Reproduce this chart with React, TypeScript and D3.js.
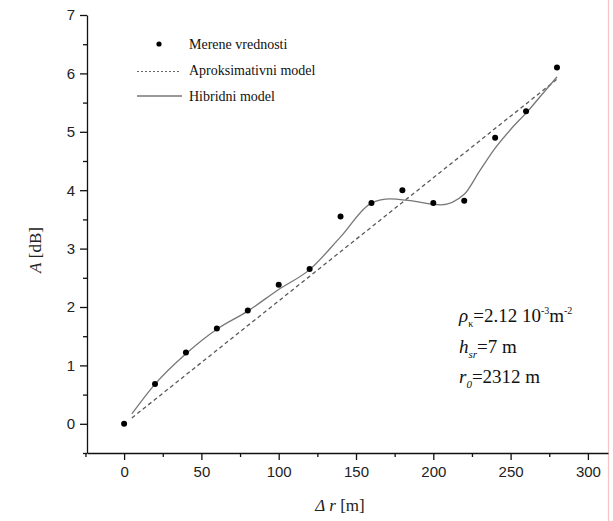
import React, { useEffect, useRef } from 'react';
import * as d3 from 'd3';

// measured values
const distances = [0, 20, 40, 60, 80, 100, 120, 140, 160, 180, 200, 220, 240, 260, 280];
const measured = [0, 0.68, 1.22, 1.63, 1.94, 2.38, 2.65, 3.55, 3.78, 4.0, 3.78, 3.82, 4.9, 5.35, 6.1];

// approximate (linear) model
const approxX = [5, 280];
const approxY = [0.1, 5.9];

// hybrid model
const hybridX = [5, 20, 40, 60, 80, 100, 120, 140, 160, 172, 185, 205, 220, 230, 240, 250, 261, 270, 280];
const hybridY = [0.17, 0.68, 1.2, 1.62, 1.93, 2.3, 2.64, 3.2, 3.78, 3.85, 3.82, 3.75, 3.93, 4.33, 4.72, 5.04, 5.35, 5.63, 5.94];

const xTicks = [0, 50, 100, 150, 200, 250, 300];
const xMinor = [-25, 25, 75, 125, 175, 225, 275];
const yTicks = [0, 1, 2, 3, 4, 5, 6, 7];
const yMinor = [-0.5, 0.5, 1.5, 2.5, 3.5, 4.5, 5.5, 6.5];

const legendNames = ['Merene vrednosti', 'Aproksimativni model', 'Hibridni model'];

const W = 613, H = 521;
const serif = '"Liberation Serif", "Times New Roman", serif';
const sans = '"Liberation Sans", Arial, sans-serif';

export default function App() {
  const ref = useRef<SVGSVGElement>(null);

  useEffect(() => {
    const svg = d3.select(ref.current);
    svg.selectAll('*').remove();

    const x = d3.scaleLinear().domain([-24, 313]).range([87, 608]);
    const y = d3.scaleLinear().domain([-0.5, 7]).range([453, 15]);

    // frame edge on the right
    svg.append('line')
      .attr('x1', 608.5).attr('x2', 608.5).attr('y1', 0).attr('y2', H)
      .attr('stroke', '#f4c4c4').attr('stroke-width', 1.2);

    // axes
    const xAxis = svg.append('g').attr('transform', `translate(0,${y(-0.5)})`)
      .call(d3.axisBottom(x).tickValues(xTicks).tickSize(7).tickSizeOuter(0).tickPadding(6));
    svg.append('g').attr('transform', `translate(0,${y(-0.5)})`)
      .call(d3.axisBottom(x).tickValues(xMinor).tickSize(4).tickFormat(() => '').tickSizeOuter(0))
      .select('.domain').remove();
    const yAxis = svg.append('g').attr('transform', `translate(${x(-24)},0)`)
      .call(d3.axisLeft(y).tickValues(yTicks).tickSize(7).tickSizeOuter(0).tickPadding(5));
    svg.append('g').attr('transform', `translate(${x(-24)},0)`)
      .call(d3.axisLeft(y).tickValues(yMinor).tickSize(4).tickFormat(() => '').tickSizeOuter(0))
      .select('.domain').remove();

    svg.selectAll('.domain, .tick line').attr('stroke', '#111').attr('stroke-width', 1.3);
    [xAxis, yAxis].forEach(g => g.selectAll('text')
      .attr('font-family', sans).attr('font-size', 15).attr('fill', '#222'));

    // approximate model
    const line = d3.line<[number, number]>().x(d => x(d[0])).y(d => y(d[1]));
    svg.append('path')
      .attr('d', line(approxX.map((v, i) => [v, approxY[i]] as [number, number])))
      .attr('fill', 'none').attr('stroke', '#5a5a5a').attr('stroke-width', 1.3)
      .attr('stroke-dasharray', '4,3');

    // hybrid model
    const curve = d3.line<[number, number]>().x(d => x(d[0])).y(d => y(d[1]))
      .curve(d3.curveMonotoneX);
    svg.append('path')
      .attr('d', curve(hybridX.map((v, i) => [v, hybridY[i]] as [number, number])))
      .attr('fill', 'none').attr('stroke', '#777').attr('stroke-width', 1.3);

    // measured points
    svg.append('g').selectAll('circle').data(distances).join('circle')
      .attr('cx', d => x(d)).attr('cy', (d, i) => y(measured[i]))
      .attr('r', 3).attr('fill', '#000');

    // legend
    const lg = svg.append('g').attr('font-family', serif).attr('font-size', 14).attr('fill', '#111');
    lg.append('circle').attr('cx', 159).attr('cy', 44).attr('r', 2.6).attr('fill', '#000');
    lg.append('line').attr('x1', 137).attr('x2', 181).attr('y1', 71.5).attr('y2', 71.5)
      .attr('stroke', '#666').attr('stroke-width', 1.2).attr('stroke-dasharray', '2,2');
    lg.append('line').attr('x1', 137).attr('x2', 182).attr('y1', 96).attr('y2', 96)
      .attr('stroke', '#777').attr('stroke-width', 1.4);
    legendNames.forEach((n, i) => {
      lg.append('text').attr('x', 189).attr('y', 49 + i * 26).text(n);
    });

    // axis titles
    const yt = svg.append('text').attr('font-family', serif).attr('font-size', 17).attr('fill', '#222')
      .attr('text-anchor', 'middle').attr('transform', 'translate(41,250) rotate(-90)');
    yt.append('tspan').attr('font-style', 'italic').text('A');
    yt.append('tspan').text(' [dB]');
    const xt = svg.append('text').attr('font-family', serif).attr('font-size', 17).attr('fill', '#222')
      .attr('text-anchor', 'middle').attr('x', 340).attr('y', 511);
    xt.append('tspan').attr('font-style', 'italic').text('Δ r');
    xt.append('tspan').text(' [m]');

    // parameter annotation
    const ann = svg.append('g').attr('font-family', serif).attr('font-size', 19).attr('fill', '#111');
    const t1 = ann.append('text').attr('x', 459).attr('y', 322);
    t1.append('tspan').attr('font-style', 'italic').text('ρ');
    t1.append('tspan').attr('font-size', 10).attr('dy', 5).text('κ');
    t1.append('tspan').attr('dy', -5).text('=2.12 10');
    t1.append('tspan').attr('font-size', 10).attr('dy', -8).text('-3');
    t1.append('tspan').attr('dy', 8).text('m');
    t1.append('tspan').attr('font-size', 10).attr('dy', -8).text('-2');
    const t2 = ann.append('text').attr('x', 459).attr('y', 353);
    t2.append('tspan').attr('font-style', 'italic').text('h');
    t2.append('tspan').attr('font-size', 11).attr('font-style', 'italic').attr('dy', 5).text('sr');
    t2.append('tspan').attr('dy', -5).text('=7 m');
    const t3 = ann.append('text').attr('x', 459).attr('y', 383);
    t3.append('tspan').attr('font-style', 'italic').text('r');
    t3.append('tspan').attr('font-size', 11).attr('font-style', 'italic').attr('dy', 5).text('0');
    t3.append('tspan').attr('dy', -5).text('=2312 m');
  }, []);

  return (
    <svg ref={ref} width={W} height={H}
      style={{ position: 'absolute', left: 0, top: 0, background: '#fff' }} />
  );
}
